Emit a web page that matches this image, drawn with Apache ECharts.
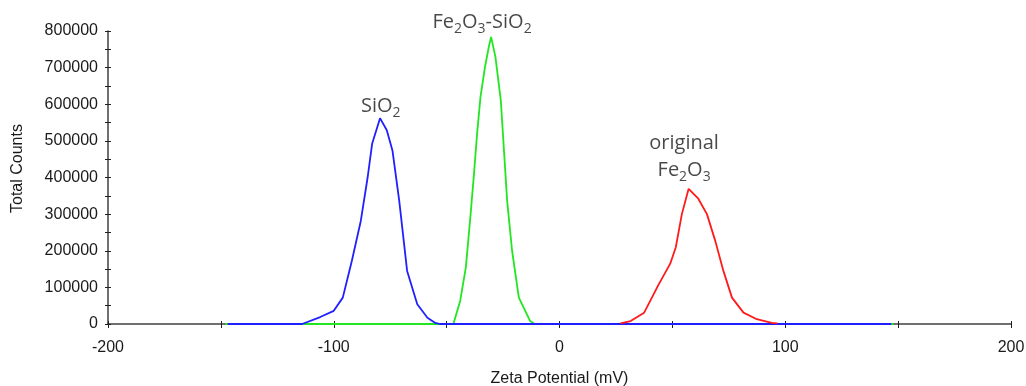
<!DOCTYPE html>
<html>
<head>
<meta charset="utf-8">
<script src="https://cdn.jsdelivr.net/npm/echarts@6/dist/echarts.min.js"></script>
<style>html,body{margin:0;padding:0;background:#fff;}#c{width:1026px;height:386px;}</style>
</head>
<body>
<div id="c"></div>
<script>
// Zeta potential (mV) and total counts
const sio2X = [-147, -114, -106, -100, -96, -92, -88, -85, -83, -79.5, -76.5, -74, -71, -67.5, -63, -58.5, -55, -53, 147];
const sio2Y = [0, 0, 19000, 36000, 72000, 172000, 282000, 400000, 492000, 562000, 529000, 474000, 337000, 145000, 54000, 17000, 3000, 0, 0];

const fesiX = [-148, -47, -44, -41.5, -39.5, -38, -36.5, -35, -33, -31.3, -30.3, -28.4, -26, -24.6, -23.2, -21, -18, -13, -11, 148];
const fesiY = [0, 0, 63000, 154000, 291000, 401000, 520000, 620000, 702000, 757000, 784000, 730000, 611000, 474000, 337000, 200000, 72000, 8000, 0, 0];

const origX = [27, 31.5, 37.5, 44, 49, 51.5, 54.2, 57.2, 61.5, 65.3, 69, 72.6, 76.4, 81.5, 87.4, 94, 96.5];
const origY = [1500, 8000, 31000, 109000, 164000, 209000, 300000, 369000, 342000, 300000, 227000, 145000, 72000, 31000, 13000, 3000, 1500];

const xTicks = [-200, -100, 0, 100, 200];
const annText = ['{n|SiO}{s|2}', '{n|Fe}{s|2}{n|O}{s|3}{n|-SiO}{s|2}', '{n|original}\n{n|Fe}{s|2}{n|O}{s|3}'];
const annX = [-79.2, -34.3, 55.2];
const annY = [594000, 824000, 457000];

const zip = (xs, ys) => xs.map((x, i) => [x, ys[i]]);
const tickFont = 'Liberation Sans';
const annFont = 'Open Sans';

const chart = echarts.init(document.getElementById('c'), null, {renderer: 'canvas'});
const axisCommonX = {type: 'value', min: -200, max: 200, interval: 50, splitLine: {show: false}};
const axisCommonY = {type: 'value', min: 0, max: 800000, interval: 50000, splitLine: {show: false}};
chart.setOption({
  animation: false,
  backgroundColor: '#fff',
  grid: {left: 108, right: 15, top: 31, bottom: 62, containLabel: false, outerBoundsMode: 'none'},
  xAxis: [
    Object.assign({}, axisCommonX, {
      position: 'bottom',
      name: 'Zeta Potential (mV)', nameLocation: 'middle', nameGap: 47,
      nameTextStyle: {fontFamily: tickFont, fontSize: 16, color: '#1a1a1a'},
      axisLine: {show: true, onZero: false, lineStyle: {color: '#404040', width: 1.5}},
      axisTick: {show: true, inside: false, length: 4, lineStyle: {color: '#202020', width: 1}},
      axisLabel: {margin: 16, fontFamily: tickFont, fontSize: 16, color: '#1a1a1a',
        formatter: v => xTicks.indexOf(v) >= 0 ? String(v) : ''}
    }),
    Object.assign({}, axisCommonX, {
      position: 'bottom',
      axisLine: {show: false, onZero: false},
      axisTick: {show: true, inside: true, length: 3, lineStyle: {color: '#202020', width: 1}},
      axisLabel: {show: false}
    })
  ],
  yAxis: [
    Object.assign({}, axisCommonY, {
      position: 'left',
      name: 'Total Counts', nameLocation: 'middle', nameGap: 82, nameRotate: 90,
      nameTextStyle: {fontFamily: tickFont, fontSize: 16, color: '#1a1a1a', padding: [0, 0, 0, 18]},
      axisLine: {show: true, onZero: false, lineStyle: {color: '#404040', width: 1.5}},
      axisTick: {show: true, inside: false, length: 3, lineStyle: {color: '#202020', width: 1}},
      axisLabel: {margin: 10, fontFamily: tickFont, fontSize: 16, color: '#1a1a1a',
        formatter: v => (v % 100000 === 0) ? String(v) : ''}
    }),
    Object.assign({}, axisCommonY, {
      position: 'left',
      axisLine: {show: false, onZero: false},
      axisTick: {show: true, inside: true, length: 3, lineStyle: {color: '#202020', width: 1}},
      axisLabel: {show: false}
    })
  ],
  series: [
    {type: 'line', name: 'Fe2O3-SiO2', data: zip(fesiX, fesiY), showSymbol: false, symbol: 'none',
      lineStyle: {color: '#22e622', width: 1.8}, z: 2},
    {type: 'line', name: 'SiO2', data: zip(sio2X, sio2Y), showSymbol: false, symbol: 'none',
      lineStyle: {color: '#2020ff', width: 1.8}, z: 3},
    {type: 'line', name: 'original Fe2O3', data: zip(origX, origY), showSymbol: false, symbol: 'none',
      lineStyle: {color: '#ff1a1a', width: 1.8}, z: 4},
    {type: 'scatter', clip: false, symbolSize: 0, silent: true, z: 5,
      data: annX.map((x, i) => ({value: [x, annY[i]], label: {formatter: annText[i]}})),
      label: {show: true, position: 'inside', align: 'center', verticalAlign: 'middle',
        rich: {
          n: {fontFamily: annFont, fontSize: 20, lineHeight: 27, color: '#1a1a1a'},
          s: {fontFamily: annFont, fontSize: 14, lineHeight: 14, verticalAlign: 'bottom', color: '#1a1a1a'}
        }}
    }
  ]
});
</script>
</body>
</html>
